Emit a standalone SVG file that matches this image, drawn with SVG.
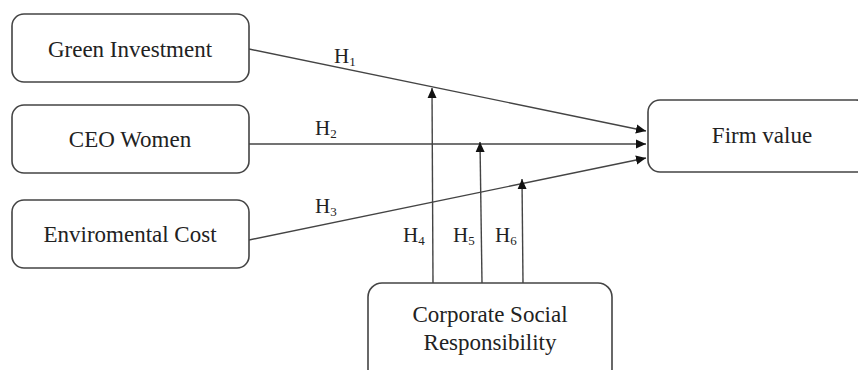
<svg xmlns="http://www.w3.org/2000/svg" width="858" height="370" viewBox="0 0 858 370">
<style>
.box{fill:#fff;stroke:#444;stroke-width:1.6}
.t{font-family:"Liberation Serif","Times New Roman",serif;font-size:23px;fill:#222;text-anchor:middle}
.h{font-family:"Liberation Serif","Times New Roman",serif;font-size:21px;fill:#222}
.s{font-size:13px}
.c{stroke:#444;stroke-width:1.4;fill:none}
</style>
<defs>
<marker id="arr" viewBox="0 0 10 10" refX="10" refY="5" markerWidth="10" markerHeight="10" markerUnits="userSpaceOnUse" orient="auto">
<path d="M0,0.5 L10,5 L0,9.5 Z" fill="#111"/>
</marker>
</defs>
<rect width="858" height="370" fill="#fff"/>
<g id="connectors">
<line class="c" x1="249" y1="49" x2="646" y2="131" marker-end="url(#arr)"/>
<line class="c" x1="249" y1="144" x2="646" y2="144" marker-end="url(#arr)"/>
<line class="c" x1="249" y1="240" x2="646" y2="158" marker-end="url(#arr)"/>
<line class="c" x1="433" y1="283" x2="432" y2="88" marker-end="url(#arr)"/>
<line class="c" x1="482" y1="283" x2="480" y2="142" marker-end="url(#arr)"/>
<line class="c" x1="523" y1="283" x2="522" y2="179" marker-end="url(#arr)"/>
<text class="h" x="334" y="63">H<tspan class="s" dy="3">1</tspan></text>
<text class="h" x="315" y="135">H<tspan class="s" dy="3">2</tspan></text>
<text class="h" x="315" y="213">H<tspan class="s" dy="3">3</tspan></text>
<text class="h" x="403" y="242">H<tspan class="s" dy="3">4</tspan></text>
<text class="h" x="453" y="242">H<tspan class="s" dy="3">5</tspan></text>
<text class="h" x="495" y="242">H<tspan class="s" dy="3">6</tspan></text>
</g>
<g id="green-investment">
<rect class="box" x="12" y="14" width="237" height="68" rx="12"/>
<text class="t" x="130" y="57">Green Investment</text>
</g>
<g id="ceo-women">
<rect class="box" x="12" y="105" width="237" height="68" rx="12"/>
<text class="t" x="130" y="147">CEO Women</text>
</g>
<g id="enviromental-cost">
<rect class="box" x="12" y="200" width="237" height="68" rx="12"/>
<text class="t" x="130" y="242">Enviromental Cost</text>
</g>
<g id="firm-value">
<rect class="box" x="648" y="100" width="220" height="72" rx="12"/>
<text class="t" x="762" y="143">Firm value</text>
</g>
<g id="csr">
<rect class="box" x="368" y="283" width="244" height="100" rx="14"/>
<text class="t" x="490" y="322">Corporate Social</text>
<text class="t" x="490" y="350">Responsibility</text>
</g>
</svg>
